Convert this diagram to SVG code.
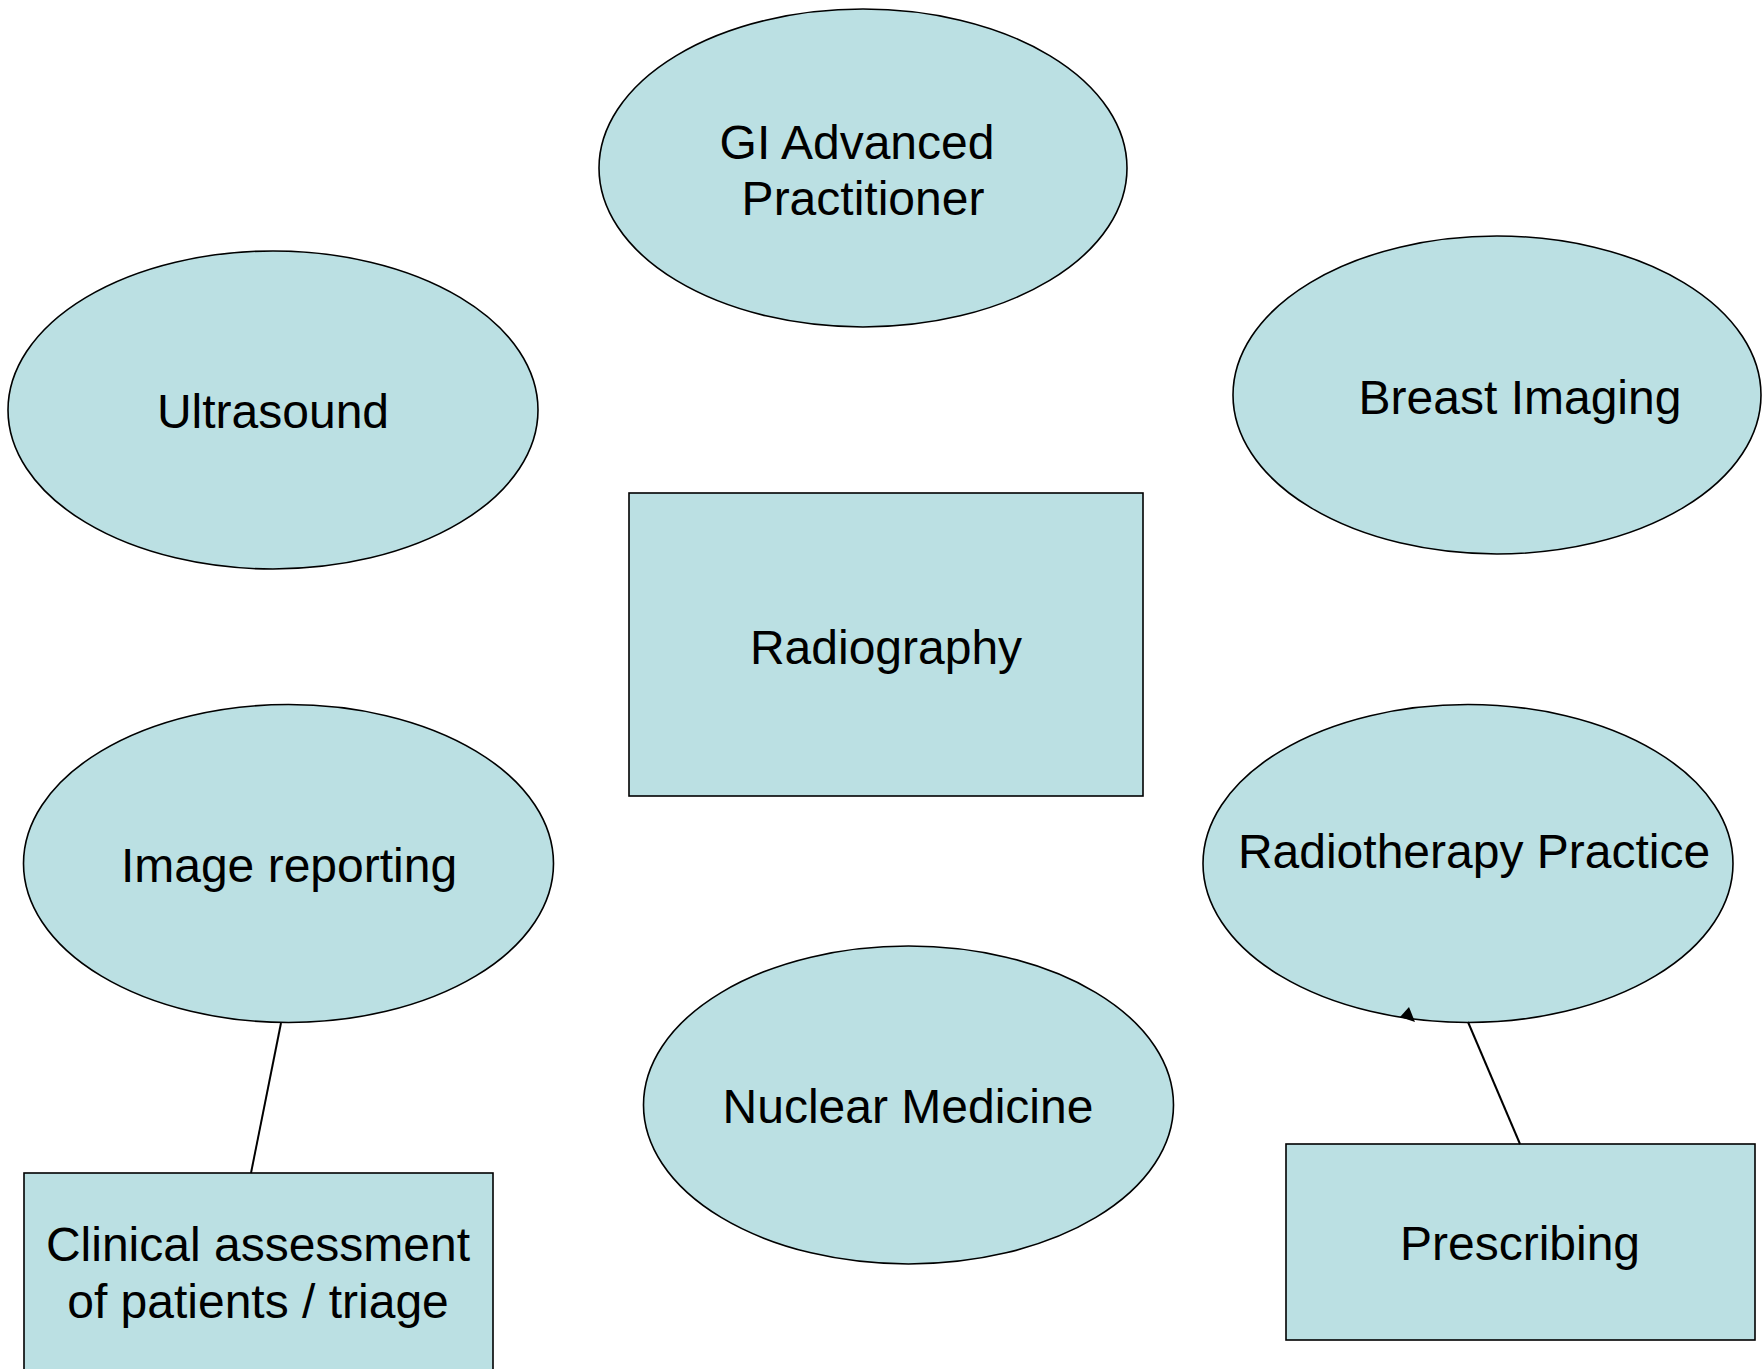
<svg xmlns="http://www.w3.org/2000/svg" width="1764" height="1369" viewBox="0 0 1764 1369">
  <style>
    .shape { fill: #BBE0E3; stroke: #000; stroke-width: 1.6; }
    .label { font-family: "Liberation Sans", Arial, sans-serif; font-size: 48px; fill: #000; text-anchor: middle; }
    .link { stroke: #000; stroke-width: 2; fill: none; }
  </style>
  <rect width="1764" height="1369" fill="#fff"/>

  <g id="node-gi">
    <ellipse class="shape" cx="863" cy="168" rx="264" ry="159"/>
    <text class="label" x="857" y="158.5">GI Advanced</text>
    <text class="label" x="863" y="214.5">Practitioner</text>
  </g>

  <g id="node-ultrasound">
    <ellipse class="shape" cx="273" cy="410" rx="265" ry="159"/>
    <text class="label" x="273" y="427.5">Ultrasound</text>
  </g>

  <g id="node-breast">
    <ellipse class="shape" cx="1497" cy="395" rx="264" ry="159"/>
    <text class="label" x="1520" y="413.5">Breast Imaging</text>
  </g>

  <g id="node-radiography">
    <rect class="shape" x="629" y="493" width="514" height="303"/>
    <text class="label" x="886" y="663.5">Radiography</text>
  </g>

  <g id="node-reporting">
    <ellipse class="shape" cx="288.5" cy="863.5" rx="265" ry="159"/>
    <text class="label" x="289" y="881.5">Image reporting</text>
  </g>

  <g id="node-radiotherapy">
    <ellipse class="shape" cx="1468" cy="863.5" rx="265" ry="159"/>
    <text class="label" x="1474" y="867.5">Radiotherapy Practice</text>
  </g>

  <g id="node-nuclear">
    <ellipse class="shape" cx="908.5" cy="1105" rx="265" ry="159"/>
    <text class="label" x="908" y="1122.5">Nuclear Medicine</text>
  </g>

  <g id="node-clinical">
    <rect class="shape" x="24" y="1173" width="469" height="220"/>
    <text class="label" x="258" y="1260.5">Clinical assessment</text>
    <text class="label" x="258" y="1317.5">of patients / triage</text>
  </g>

  <g id="node-prescribing">
    <rect class="shape" x="1286" y="1144" width="469" height="196"/>
    <text class="label" x="1520" y="1259.5">Prescribing</text>
  </g>

  <g id="connectors">
    <line class="link" x1="281" y1="1023" x2="251" y2="1173"/>
    <line class="link" x1="1468" y1="1022" x2="1520" y2="1144"/>
    <polygon points="1409,1007 1400,1017 1415,1022" fill="#000"/>
  </g>
</svg>
